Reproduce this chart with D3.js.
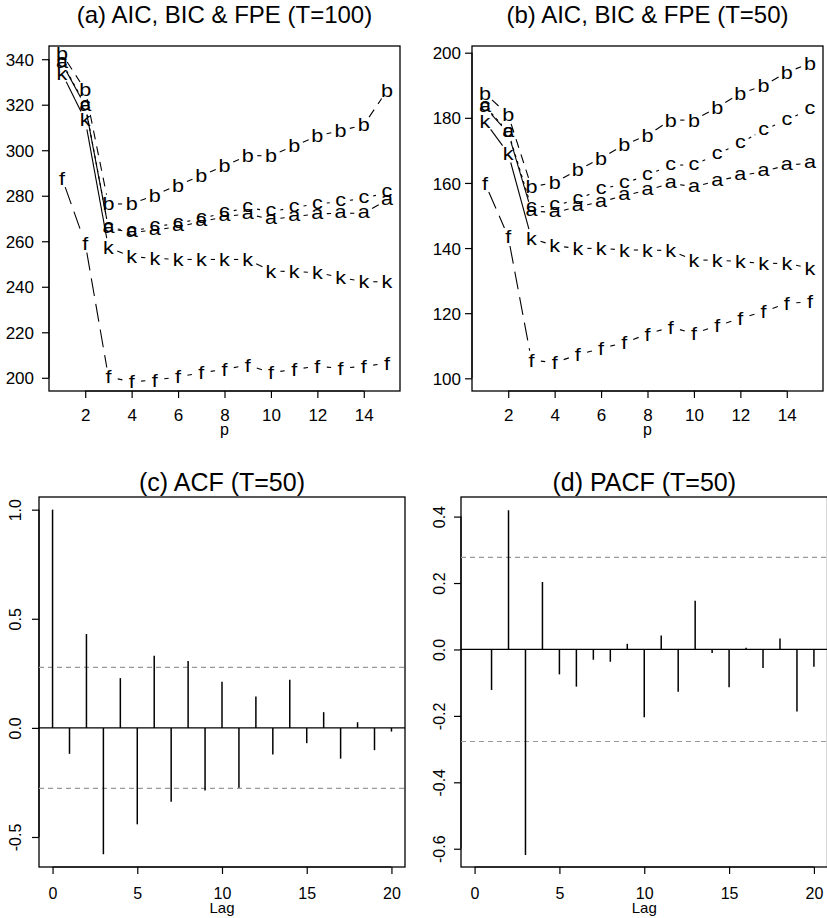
<!DOCTYPE html>
<html><head><meta charset="utf-8">
<script src="https://cdn.jsdelivr.net/npm/d3@7"></script>
<style>
body{margin:0;background:#fff}
svg{display:block}
text{font-family:"Liberation Sans",Arial,Helvetica,sans-serif;fill:#000}
</style>
</head><body>
<svg id="chart" width="827" height="918"></svg>
<script>
// ---------- DATA ----------
const pOrders = [1,2,3,4,5,6,7,8,9,10,11,12,13,14,15];
// Panel (a): T=100
const aT100 = [338.2,319.5,265.7,263.9,264.9,266.4,268.6,270.8,272.0,269.6,270.8,272.0,272.3,272.3,278.1];
const bT100 = [342.3,326.5,276.4,276.4,280.3,284.7,288.8,293.2,297.6,297.6,301.9,306.3,308.6,311.1,326.2];
const cT100 = [338.6,319.9,266.0,264.5,266.4,267.9,270.0,272.5,274.9,273.0,274.9,276.4,277.4,278.9,281.3];
const kT100 = [333.8,313.3,257.3,253.2,252.5,252.0,252.0,252.0,252.0,246.9,246.7,246.2,244.1,242.2,242.2];
const fT100 = [287.7,259.1,200.4,198.2,199.0,200.4,202.2,203.7,205.6,202.2,203.7,205.1,204.1,205.1,206.3];
// Panel (b): T=50
const aT50 = [183.2,175.4,151.4,150.9,152.7,154.2,156.1,157.8,159.9,158.8,160.6,162.2,163.5,165.5,166.0];
const bT50 = [187.5,180.9,158.8,160.1,164.0,167.6,171.7,174.7,179.3,179.3,183.2,187.5,189.8,194.0,196.7];
const cT50 = [183.6,175.7,152.5,153.0,155.0,158.0,159.9,162.4,165.5,165.5,168.9,172.2,176.3,179.3,182.7];
const kT50 = [178.8,169.1,143.0,140.7,139.9,139.9,139.4,139.4,139.2,136.3,136.3,135.8,135.3,135.3,133.8];
const fT50 = [159.9,143.5,105.6,104.8,107.2,109.2,110.9,113.6,115.7,113.8,116.1,118.4,120.5,123.0,123.5];
// Panel (c): ACF
const acfLags = [0,1,2,3,4,5,6,7,8,9,10,11,12,13,14,15,16,17,18,19,20];
const acfT50 = [1.0,-0.119,0.43,-0.579,0.228,-0.442,0.330,-0.339,0.306,-0.287,0.211,-0.274,0.144,-0.122,0.220,-0.070,0.072,-0.141,0.026,-0.102,-0.017];
// Panel (d): PACF
const pacfLags = [1,2,3,4,5,6,7,8,9,10,11,12,13,14,15,16,17,18,19,20];
const pacfT50 = [-0.122,0.419,-0.619,0.203,-0.075,-0.112,-0.031,-0.037,0.017,-0.204,0.042,-0.127,0.147,-0.011,-0.114,0.005,-0.056,0.033,-0.187,-0.052];
const ciBound = 0.2772;
// Tick labels
const pTicks = [2,4,6,8,10,12,14];
const yTicksA = [200,220,240,260,280,300,320,340];
const yTicksB = [100,120,140,160,180,200];
const lagTicks = [0,5,10,15,20];
const yTicksC = [-0.5,0.0,0.5,1.0];
const yTicksD = [-0.6,-0.4,-0.2,0.0,0.2,0.4];
const seriesLetters = ["a","b","c","k","f"];
const titles = ["(a) AIC, BIC & FPE (T=100)","(b) AIC, BIC & FPE (T=50)","(c) ACF (T=50)","(d) PACF (T=50)"];

// ---------- STYLE ----------
const dashes = {a:null, b:"9,7", c:"3,4", k:null, f:"18,8"};
const svg = d3.select("#chart");

function panel(o){
  const g = svg.append("g");
  const x = d3.scaleLinear().domain(o.xd).range([o.x0,o.x1]);
  const y = d3.scaleLinear().domain(o.yd).range([o.y1,o.y0]);
  // title
  const t = g.append("text").attr("x",(o.x0+o.x1)/2).attr("y",o.titleY)
    .attr("text-anchor","middle").style("font-size",o.titleSize+"px")
    .text(o.title);
  if(o.titleLen) t.attr("textLength",o.titleLen).attr("lengthAdjust","spacingAndGlyphs");
  // x axis
  const xa = g.append("g").attr("transform",`translate(0,${o.y1})`)
    .call(d3.axisBottom(x).tickValues(o.xt).tickSize(7).tickSizeOuter(0).tickFormat(d=>String(d)));
  xa.select(".domain").remove();
  xa.append("line").attr("x1",x(o.xt[0])).attr("x2",x(o.xt[o.xt.length-1])).attr("stroke","#000").attr("stroke-width",1.2);
  xa.selectAll(".tick line").attr("stroke","#000").attr("stroke-width",1.2);
  xa.selectAll(".tick text").attr("y",o.xLabY-o.y1).attr("dy",null)
    .style("font-size",o.tickSize+"px").style("font-family",'"Liberation Sans",Arial,sans-serif').attr("fill","#000");
  g.append("text").attr("x",(o.x0+o.x1)/2).attr("y",o.xTitleY).attr("text-anchor","middle")
    .style("font-size",o.xTitleSize+"px").text(o.xTitle);
  // y axis
  const ya = g.append("g").attr("transform",`translate(${o.x0},0)`)
    .call(d3.axisLeft(y).tickValues(o.yt).tickSize(7).tickSizeOuter(0).tickFormat(o.yfmt));
  ya.select(".domain").remove();
  ya.append("line").attr("y1",y(o.yt[0])).attr("y2",y(o.yt[o.yt.length-1])).attr("stroke","#000").attr("stroke-width",1.2);
  ya.selectAll(".tick line").attr("stroke","#000").attr("stroke-width",1.2);
  const yt = ya.selectAll(".tick text").style("font-size",o.tickSize+"px")
    .style("font-family",'"Liberation Sans",Arial,sans-serif').attr("fill","#000");
  if(o.rotY){
    yt.attr("x",null).attr("dy",null).attr("text-anchor","middle")
      .attr("transform",`translate(${o.yLabX-o.x0},0) rotate(-90)`);
  } else {
    yt.attr("x",o.yLabX-o.x0).attr("dy","0.36em");
  }
  // box
  g.append("rect").attr("x",o.x0).attr("y",o.y0).attr("width",o.x1-o.x0).attr("height",o.y1-o.y0)
    .attr("fill","none").attr("stroke","#000").attr("stroke-width",1.3);
  return {g,x,y};
}

function drawSeries(P, xs, ys, letter){
  const gap = 9.5;
  const pts = xs.map((v,i)=>[P.x(v),P.y(ys[i])]);
  const segs = [];
  for(let i=0;i<pts.length-1;i++){
    const [x1,y1]=pts[i],[x2,y2]=pts[i+1];
    const L = Math.hypot(x2-x1,y2-y1);
    if(L>2*gap){
      const f=gap/L;
      segs.push([x1+f*(x2-x1),y1+f*(y2-y1),x2-f*(x2-x1),y2-f*(y2-y1)]);
    }
  }
  P.g.append("g").selectAll("line").data(segs).join("line")
    .attr("x1",d=>d[0]).attr("y1",d=>d[1]).attr("x2",d=>d[2]).attr("y2",d=>d[3])
    .attr("stroke","#000").attr("stroke-width",1.1)
    .attr("stroke-dasharray",dashes[letter]);
  const tall = "bfk".includes(letter);
  P.g.append("g").selectAll("text").data(pts).join("text")
    .attr("transform",d=>`translate(${d[0]},${d[1]}) scale(1.2,1)`)
    .attr("dy",tall?"0.36em":"0.26em")
    .attr("text-anchor","middle").style("font-size","18px").text(letter);
}

function drawStems(P, lags, vals){
  P.g.append("line").attr("x1",P.x.range()[0]).attr("x2",P.x.range()[1])
    .attr("y1",P.y(0)).attr("y2",P.y(0)).attr("stroke","#000").attr("stroke-width",1.3);
  [ciBound,-ciBound].forEach(v=>{
    P.g.append("line").attr("x1",P.x.range()[0]).attr("x2",P.x.range()[1])
      .attr("y1",P.y(v)).attr("y2",P.y(v)).attr("stroke","#999").attr("stroke-width",1.2)
      .attr("stroke-dasharray","5,4");
  });
  P.g.append("g").selectAll("line").data(lags).join("line")
    .attr("x1",d=>P.x(d)).attr("x2",d=>P.x(d)).attr("y1",P.y(0)).attr("y2",(d,i)=>P.y(vals[i]))
    .attr("stroke","#000").attr("stroke-width",1.5);
}

const fmt1 = d=>d.toFixed(1);
const fmt0 = d=>String(d);

// Panel a
const PA = panel({x0:49,x1:400,y0:46,y1:391,xd:[0.44,15.56],yd:[194.2,345.8],xt:pTicks,yt:yTicksA,
  yfmt:fmt0,title:titles[0],titleY:23,titleSize:24,tickSize:17,xLabY:421,xTitle:"p",xTitleY:435,xTitleSize:16,
  yLabX:34,rotY:false});
const dataA = {a:aT100,b:bT100,c:cT100,k:kT100,f:fT100};
seriesLetters.forEach(l=>drawSeries(PA,pOrders,dataA[l],l));

// Panel b
const PB = panel({x0:472,x1:823,y0:46,y1:391,xd:[0.44,15.56],yd:[96.1,202.06],xt:pTicks,yt:yTicksB,
  yfmt:fmt0,title:titles[1],titleY:23,titleSize:24,tickSize:17,xLabY:421,xTitle:"p",xTitleY:435,xTitleSize:16,
  yLabX:461,rotY:false});
const dataB = {a:aT50,b:bT50,c:cT50,k:kT50,f:fT50};
seriesLetters.forEach(l=>drawSeries(PB,pOrders,dataB[l],l));

// Panel c
const PC = panel({x0:39,x1:405,y0:497,y1:867,xd:[-0.8,20.8],yd:[-0.6375,1.058],xt:lagTicks,yt:yTicksC,
  yfmt:fmt1,title:titles[2],titleY:491,titleSize:25,tickSize:16,xLabY:899,xTitle:"Lag",xTitleY:913,xTitleSize:15,
  yLabX:21,rotY:true});
drawStems(PC,acfLags,acfT50);

// Panel d
const PD = panel({x0:461,x1:827.5,y0:497,y1:867,xd:[-0.8,20.8],yd:[-0.655,0.459],xt:lagTicks,yt:yTicksD,
  yfmt:fmt1,title:titles[3],titleY:491,titleSize:25,tickSize:16,xLabY:899,xTitle:"Lag",xTitleY:913,xTitleSize:15,
  yLabX:444.5,rotY:true});
drawStems(PD,pacfLags,pacfT50);
</script>
</body></html>
